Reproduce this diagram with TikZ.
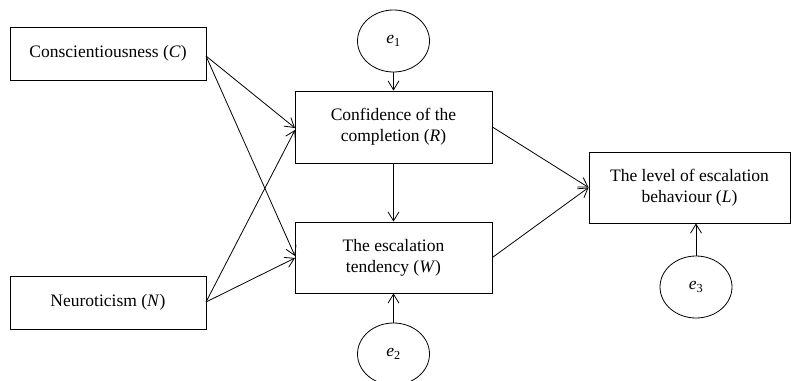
\documentclass[tikz,border=0pt]{standalone}
\usepackage{fontspec}
\setmainfont{Liberation Serif}
\usetikzlibrary{arrows.meta,shapes.geometric}
\begin{document}
\begin{tikzpicture}[x=1pt,y=-1pt,
  box/.style={draw, line width=0.8pt, inner sep=0pt, align=center, font=\fontsize{17.5}{21}\selectfont},
  err/.style={draw, ellipse, line width=0.8pt, inner sep=0pt, minimum width=72pt, minimum height=62pt, font=\fontsize{17.5}{21}\selectfont},
  arr/.style={line width=0.8pt, -{Straight Barb[length=9pt,width=11pt,line width=0.8pt]}}]
\useasboundingbox (0,0) rectangle (791,380);
\node[box, minimum width=196pt, minimum height=53pt] (C) at (108,53.5) {Conscientiousness (\textit{C})};
\node[box, minimum width=196pt, minimum height=53pt] (N) at (108,302.5) {Neuroticism (\textit{N})};
\node[box, minimum width=197pt, minimum height=72pt] (R) at (393.5,127) {Confidence of the\\completion (\textit{R})};
\node[box, minimum width=197pt, minimum height=71pt] (W) at (393.5,257.5) {The escalation\\tendency (\textit{W})};
\node[box, minimum width=201pt, minimum height=71pt] (L) at (689.5,187.5) {The level of escalation\\behaviour (\textit{L})};
\node[err] (e1) at (393.5,41) {\textit{e}\textsubscript{1}};
\node[err] (e2) at (393.5,354) {\textit{e}\textsubscript{2}};
\node[err] (e3) at (696,287) {\textit{e}\textsubscript{3}};
\coordinate (Co) at (206,56);
\coordinate (No) at (206,302);
\draw[arr] (Co) -- (295,128);
\draw[arr] (Co) -- (295,256);
\draw[arr] (No) -- (295,130);
\draw[arr] (No) -- (295,258);
\draw[arr] (R.east) -- (L.west);
\draw[arr] (W.east) -- (L.west);
\draw[arr] (R.south) -- (W.north);
\draw[arr] (e1.south) -- (R.north);
\draw[arr] (e2.north) -- (W.south);
\draw[arr] (e3.north) -- (e3.north |- L.south);
\end{tikzpicture}
\end{document}
